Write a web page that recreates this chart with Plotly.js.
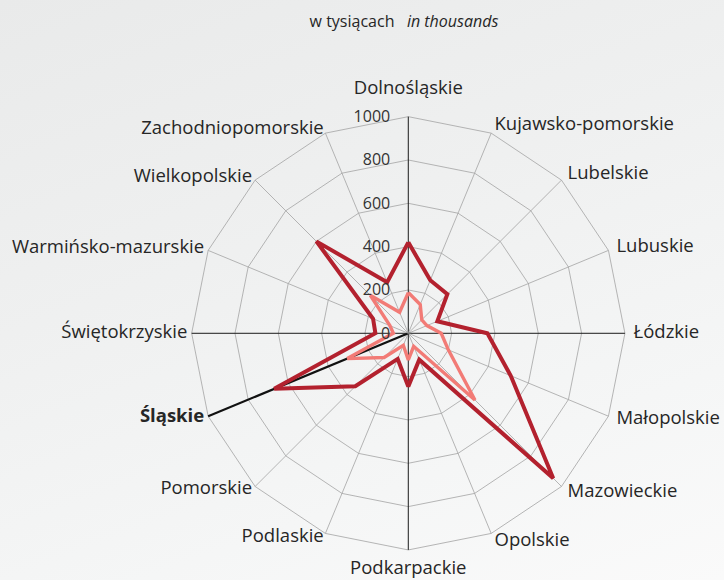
<!DOCTYPE html>
<html>
<head>
<meta charset="utf-8">
<script src="https://cdn.plot.ly/plotly-3.0.1.min.js"></script>
<style>
html,body{margin:0;padding:0;}
body{background:linear-gradient(160deg,#e9eaea 0%,#eff0f0 40%,#f5f6f6 75%,#fafafa 100%);}
#chart{width:724px;height:580px;}
</style>
</head>
<body>
<div id="chart"></div>
<script>
const categories = ["Dolnośląskie","Kujawsko-pomorskie","Lubelskie","Lubuskie","Łódzkie","Małopolskie","Mazowieckie","Opolskie","Podkarpackie","Podlaskie","Pomorskie","Śląskie","Świętokrzyskie","Warmińsko-mazurskie","Wielkopolskie","Zachodniopomorskie"];
const seriesDark = [420, 265, 255, 145, 365, 512, 946, 132, 246, 128, 346, 670, 152, 176, 600, 255];
const seriesLight = [188, 144, 88, 93, 152, 200, 435, 65, 123, 60, 158, 305, 69, 92, 248, 105];
const tickLabels = categories.map(c => c === "Śląskie" ? "<b>Śląskie</b>" : c);
const radialTicks = [0, 200, 400, 600, 800, 1000];
const axisMax = 1000;
const thinSpokes = ["Dolnośląskie","Łódzkie","Podkarpackie","Świętokrzyskie"];
const boldSpoke = "Śląskie";

const FONT = "'Open Sans', Lato, sans-serif";
const GRID = "#a3a3a3";
const closed = arr => arr.concat([arr[0]]);
const traces = [];

// polygon grid rings
radialTicks.filter(t => t > 0).forEach(t => traces.push({
  type: "scatterpolar", r: closed(categories.map(() => t)), theta: closed(categories),
  mode: "lines", line: {color: GRID, width: 0.8}, hoverinfo: "skip", showlegend: false
}));
// spokes
categories.forEach(c => {
  let color = GRID, width = 0.8;
  if (thinSpokes.includes(c)) { color = "#1a1a1a"; width = 1; }
  if (c === boldSpoke) { color = "#111111"; width = 2.2; }
  traces.push({
    type: "scatterpolar", r: [0, axisMax], theta: [c, c], mode: "lines",
    line: {color: color, width: width}, hoverinfo: "skip", showlegend: false
  });
});
traces.push({
  type: "scatterpolar", r: closed(seriesLight), theta: closed(categories),
  mode: "lines", line: {color: "#f27b76", width: 3.4}, showlegend: false
});
traces.push({
  type: "scatterpolar", r: closed(seriesDark), theta: closed(categories),
  mode: "lines", line: {color: "#b3212e", width: 4}, showlegend: false
});

// category labels just outside the outer ring
const n = categories.length;
const labelR = categories.map((c, i) => i === 0 ? 1085 : (i === n / 2 ? 1048 : (i < n / 2 ? 1040 : 1020)));
const labelPos = categories.map((c, i) => i === 0 ? "top center" : (i === n / 2 ? "bottom center" : (i < n / 2 ? "middle right" : "middle left")));
traces.push({
  type: "scatterpolar", r: labelR, theta: categories, mode: "text",
  text: tickLabels, textposition: labelPos, cliponaxis: false,
  textfont: {size: 18.5, color: "#262626", family: FONT},
  hoverinfo: "skip", showlegend: false
});

const layout = {
  width: 724, height: 580,
  margin: {l: 0, r: 0, t: 0, b: 0},
  paper_bgcolor: "rgba(0,0,0,0)",
  font: {family: FONT, color: "#262626"},
  title: {
    text: "w tysiącach   <i>in thousands</i>",
    x: 0.558, xanchor: "center", y: 0.963, yanchor: "middle",
    font: {size: 16, color: "#262626", family: FONT}
  },
  showlegend: false,
  polar: {
    domain: {x: [0.2348, 0.8931], y: [0.0145, 0.8362]},
    bgcolor: "rgba(0,0,0,0)",
    gridshape: "linear",
    radialaxis: {
      range: [0, 1100], tickvals: radialTicks, angle: 90, tickangle: 90,
      showline: false, showgrid: false,
      tickfont: {size: 16, color: "#333333", family: FONT},
      ticks: "outside", ticklen: 12, tickcolor: "rgba(0,0,0,0)", side: "counterclockwise"
    },
    angularaxis: {
      direction: "clockwise", rotation: 90, type: "category",
      categoryarray: categories, showticklabels: false, ticks: "",
      showgrid: false, showline: false
    }
  }
};
Plotly.newPlot("chart", traces, layout, {displayModeBar: false, staticPlot: true});
</script>
</body>
</html>
